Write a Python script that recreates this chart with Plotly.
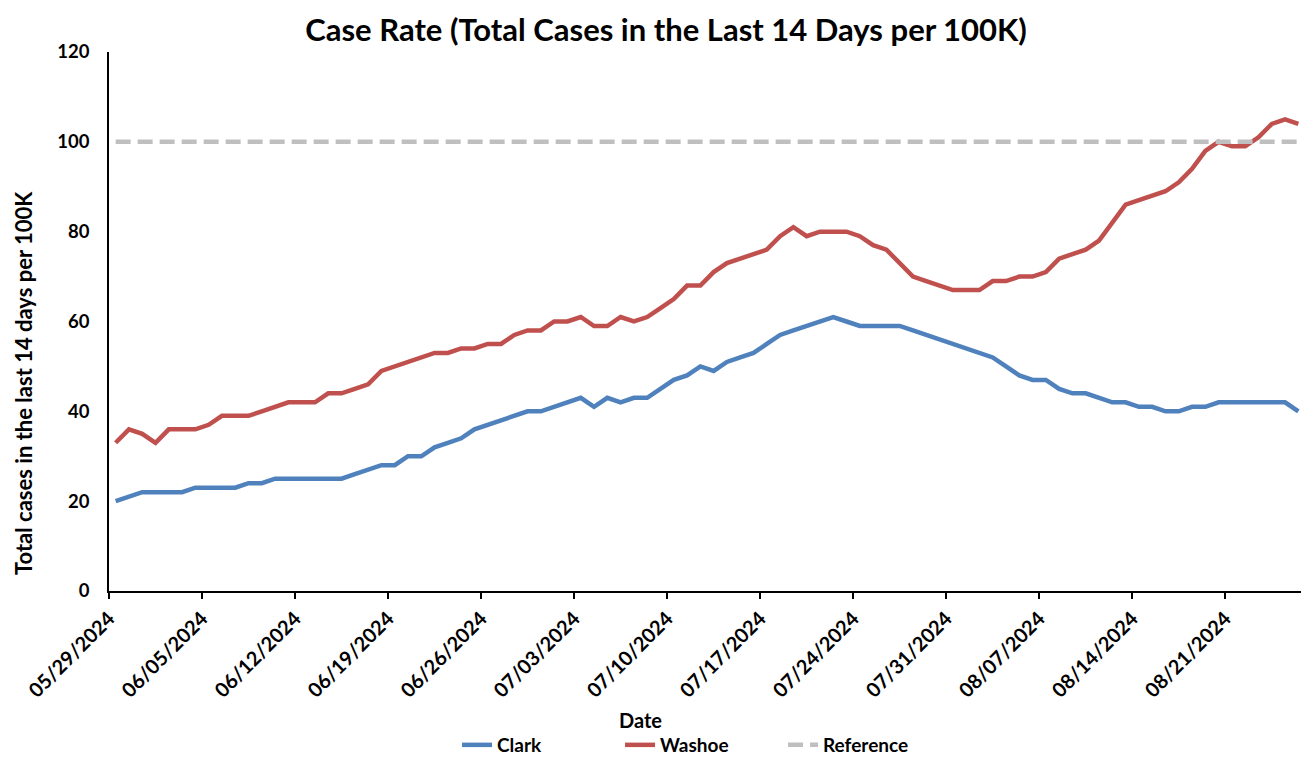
import pandas as pd
import plotly.graph_objects as go

start_date = "2024-05-29"
n_days = 90

clark = [20, 21, 22, 22, 22, 22, 23, 23, 23, 23, 24, 24, 25, 25, 25, 25, 25, 25, 26, 27,
         28, 28, 30, 30, 32, 33, 34, 36, 37, 38, 39, 40, 40, 41, 42, 43, 41, 43, 42, 43,
         43, 45, 47, 48, 50, 49, 51, 52, 53, 55, 57, 58, 59, 60, 61, 60, 59, 59, 59, 59,
         58, 57, 56, 55, 54, 53, 52, 50, 48, 47, 47, 45, 44, 44, 43, 42, 42, 41, 41, 40,
         40, 41, 41, 42, 42, 42, 42, 42, 42, 40]
washoe = [33, 36, 35, 33, 36, 36, 36, 37, 39, 39, 39, 40, 41, 42, 42, 42, 44, 44, 45, 46,
          49, 50, 51, 52, 53, 53, 54, 54, 55, 55, 57, 58, 58, 60, 60, 61, 59, 59, 61, 60,
          61, 63, 65, 68, 68, 71, 73, 74, 75, 76, 79, 81, 79, 80, 80, 80, 79, 77, 76, 73,
          70, 69, 68, 67, 67, 67, 69, 69, 70, 70, 71, 74, 75, 76, 78, 82, 86, 87, 88, 89,
          91, 94, 98, 100, 99, 99, 101, 104, 105, 104]
reference = [100] * n_days

dates = pd.date_range(start_date, periods=n_days, freq="D")
# points sit in the middle of each day (date axis, between tick marks)
x_mid = dates + pd.Timedelta(hours=12)
x_end = dates[-1] + pd.Timedelta(days=1)

FONT = "Lato"

fig = go.Figure()
fig.add_trace(go.Scatter(x=x_mid, y=clark, mode="lines", name="<b>Clark</b>",
                         line=dict(color="#4F81BD", width=4.5)))
fig.add_trace(go.Scatter(x=x_mid, y=washoe, mode="lines", name="<b>Washoe</b>",
                         line=dict(color="#C0504D", width=4.5)))
fig.add_trace(go.Scatter(x=x_mid, y=reference, mode="lines", name="<b>Reference</b>",
                         line=dict(color="#BFBFBF", width=4.5, dash="15px,7px")))

# the page body has an 8px margin, so the figure is 8px smaller than the window
fig.update_layout(
    width=1301, height=750,
    paper_bgcolor="white", plot_bgcolor="white",
    margin=dict(l=101, r=4, t=44, b=167, autoexpand=False),
    font=dict(family=FONT, color="black"),
    title=dict(text="<b>Case Rate (Total Cases in the Last 14 Days per 100K)</b>",
               x=0.5058, xanchor="center", y=0.971, yanchor="middle",
               font=dict(size=31, family=FONT, color="black")),
    showlegend=True,
    legend=dict(orientation="h", x=0.291, xanchor="left", y=-0.2857, yanchor="middle",
                font=dict(size=19, family=FONT, color="black"),
                entrywidth=118, entrywidthmode="pixels",
                tracegroupgap=0),
    hovermode=False,
    annotations=[
        dict(text="<b>Date</b>", xref="paper", yref="paper", x=0.4448, y=-0.2393,
             xanchor="center", yanchor="middle", showarrow=False,
             font=dict(size=20, family=FONT, color="black")),
        dict(text="<b>Total cases in the last 14 days per 100K</b>", xref="paper",
             yref="paper", x=-0.071, y=0.386, xanchor="center", yanchor="middle",
             textangle=-90, showarrow=False,
             font=dict(size=22, family=FONT, color="black")),
    ],
)

fig.update_xaxes(
    type="date", automargin=False,
    range=[dates[0], x_end],
    tick0=start_date, dtick=7 * 24 * 3600 * 1000,
    tickformat="<b>%m/%d/%Y</b>", tickangle=-45,
    tickfont=dict(size=20, family=FONT, color="black"),
    ticks="outside", ticklen=6, tickcolor="black", tickwidth=1.5,
    showline=True, linecolor="black", linewidth=1.8,
    showgrid=False, zeroline=False,
)
fig.update_yaxes(
    automargin=False,
    range=[0, 120], dtick=20, tick0=0,
    tickfont=dict(size=18.5, family=FONT, color="black"),
    tickprefix="<b>", ticksuffix="</b>",
    ticks="", ticklabelstandoff=14,
    showline=True, linecolor="black", linewidth=1.5,
    showgrid=False, zeroline=False,
)

fig.write_html("out.html")
